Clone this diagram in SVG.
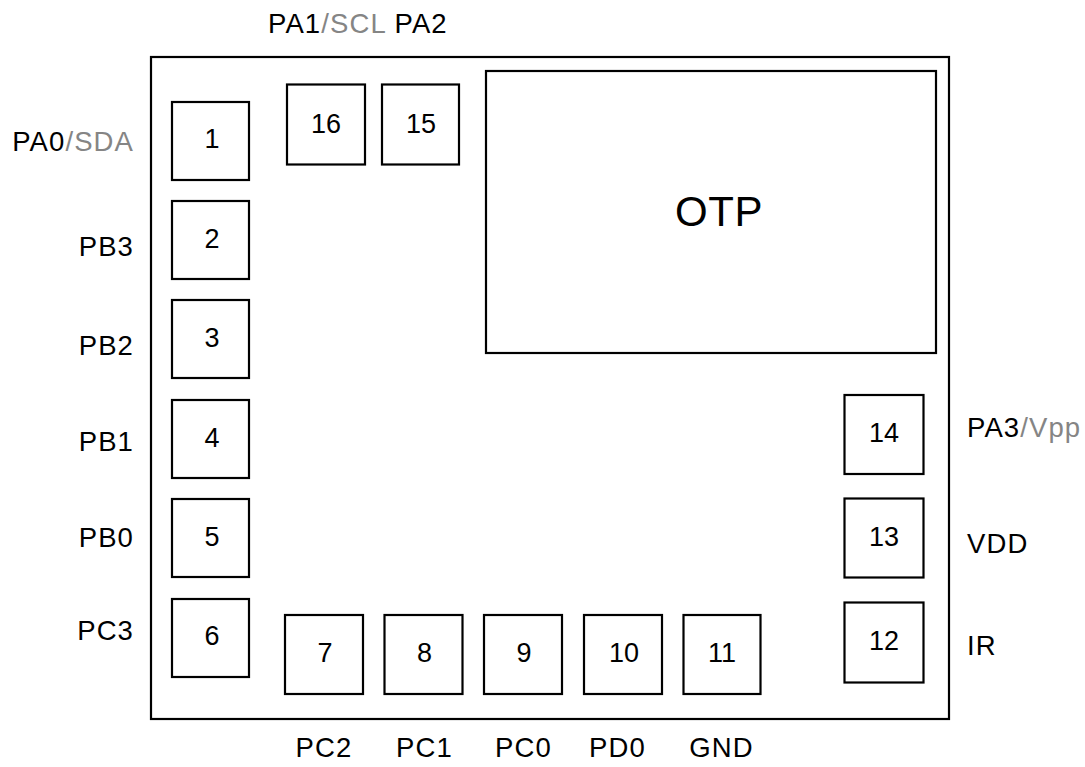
<svg xmlns="http://www.w3.org/2000/svg" width="1085" height="767" viewBox="0 0 1085 767">
<style>
.box{fill:#fff;stroke:#000;stroke-width:2.2}
.num{font-family:"Liberation Sans",Arial,sans-serif;font-size:27px;fill:#000;text-anchor:middle}
.lbl{font-family:"Liberation Sans",Arial,sans-serif;font-size:27.5px;fill:#000;letter-spacing:1.1px}
.g{fill:#858585}
</style>
<rect width="1085" height="767" fill="#fff"/>
<g id="package"><rect class="box" x="151" y="57" width="798" height="662"/></g>
<g id="otp"><rect class="box" x="486" y="71" width="450" height="282"/><text x="719" y="226" style="font-family:'Liberation Sans',Arial,sans-serif;font-size:42px;text-anchor:middle;letter-spacing:0.6px">OTP</text></g>
<g id="pin1"><rect class="box" x="172" y="102" width="77" height="78"/><text class="num" x="212" y="148">1</text></g>
<g id="pin2"><rect class="box" x="172" y="201" width="77" height="78"/><text class="num" x="212" y="248">2</text></g>
<g id="pin3"><rect class="box" x="172" y="300" width="77" height="78"/><text class="num" x="212" y="347">3</text></g>
<g id="pin4"><rect class="box" x="172" y="400" width="77" height="78"/><text class="num" x="212" y="447">4</text></g>
<g id="pin5"><rect class="box" x="172" y="499" width="77" height="78"/><text class="num" x="212" y="546">5</text></g>
<g id="pin6"><rect class="box" x="172" y="599" width="77" height="78"/><text class="num" x="212" y="645">6</text></g>
<g id="pin7"><rect class="box" x="285" y="615" width="78" height="79"/><text class="num" x="325" y="662">7</text></g>
<g id="pin8"><rect class="box" x="384.5" y="615" width="78" height="79"/><text class="num" x="424.5" y="662">8</text></g>
<g id="pin9"><rect class="box" x="484" y="615" width="78" height="79"/><text class="num" x="524" y="662">9</text></g>
<g id="pin10"><rect class="box" x="584" y="615" width="78" height="79"/><text class="num" x="624" y="662">10</text></g>
<g id="pin11"><rect class="box" x="683.5" y="615" width="77" height="79"/><text class="num" x="722" y="662">11</text></g>
<g id="pin12"><rect class="box" x="844.5" y="602.5" width="79" height="80"/><text class="num" x="884" y="650">12</text></g>
<g id="pin13"><rect class="box" x="844.5" y="498.5" width="79" height="79"/><text class="num" x="884" y="546">13</text></g>
<g id="pin14"><rect class="box" x="844.5" y="395" width="79" height="79"/><text class="num" x="884" y="442">14</text></g>
<g id="pin15"><rect class="box" x="382" y="84.5" width="77" height="80"/><text class="num" x="421" y="133">15</text></g>
<g id="pin16"><rect class="box" x="287" y="84.5" width="78" height="80"/><text class="num" x="326" y="133">16</text></g>
<g id="labels">
<text class="lbl" x="134" y="150.5" text-anchor="end">PA0<tspan class="g">/SDA</tspan></text>
<text class="lbl" x="134" y="255.5" text-anchor="end">PB3</text>
<text class="lbl" x="134" y="355" text-anchor="end">PB2</text>
<text class="lbl" x="134" y="451" text-anchor="end">PB1</text>
<text class="lbl" x="134" y="546.5" text-anchor="end">PB0</text>
<text class="lbl" x="134" y="640" text-anchor="end">PC3</text>
<text class="lbl" x="268" y="32.5">PA1<tspan class="g">/SCL</tspan> PA2</text>
<text class="lbl" x="324" y="756.5" text-anchor="middle">PC2</text>
<text class="lbl" x="424.5" y="756.5" text-anchor="middle">PC1</text>
<text class="lbl" x="523.5" y="756.5" text-anchor="middle">PC0</text>
<text class="lbl" x="617.5" y="756.5" text-anchor="middle">PD0</text>
<text class="lbl" x="721.5" y="756.5" text-anchor="middle">GND</text>
<text class="lbl" x="967" y="436.5">PA3<tspan class="g">/Vpp</tspan></text>
<text class="lbl" x="967" y="552.5">VDD</text>
<text class="lbl" x="967" y="655">IR</text>
</g>
<g id="connectors"></g>
</svg>
